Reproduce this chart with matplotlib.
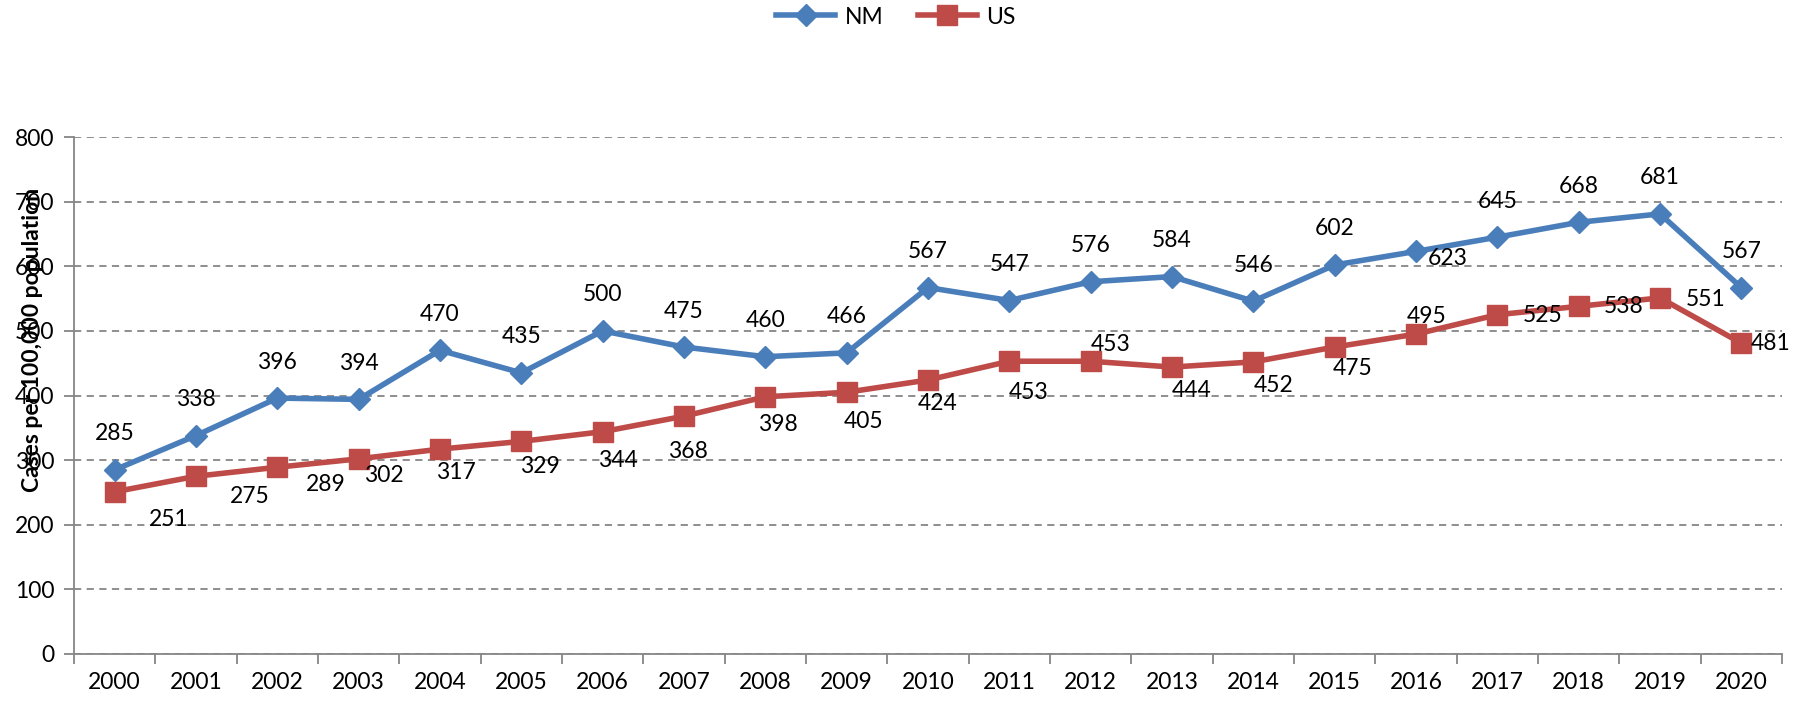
import matplotlib
matplotlib.use('Agg')
import matplotlib.pyplot as plt

years = [str(y) for y in range(2000, 2021)]
nm_rates = [285, 338, 396, 394, 470, 435, 500, 475, 460, 466, 567,
            547, 576, 584, 546, 602, 623, 645, 668, 681, 567]
us_rates = [251, 275, 289, 302, 317, 329, 344, 368, 398, 405, 424,
            453, 453, 444, 452, 475, 495, 525, 538, 551, 481]

# label offsets in pixels (dx, dy), Excel-style manual placement
nm_offsets = [(0, 36)] * 21
nm_offsets[16] = (32, -7)
us_offsets = [(54, -28), (54, -20), (48, -17), (25, -17), (16, -23), (19, -25),
              (15, -29), (4, -35), (13, -28), (17, -29), (10, -24), (19, -31),
              (20, 17), (20, -23), (20, -24), (18, -21), (11, 18), (45, -1),
              (45, 0), (46, -2), (29, 0)]

BLUE = '#4A7EBB'
RED = '#BE4B48'
GRAY = '#868686'
FS = 16.5

plt.rcParams['font.family'] = ['Lato', 'DejaVu Sans']

fig = plt.figure(figsize=(18.06, 7.04), dpi=100)
ax = fig.add_axes([74 / 1806, 1 - 654 / 704, (1782 - 74) / 1806, (654 - 137) / 704])

x = list(range(len(years)))
ax.plot(x, nm_rates, color=BLUE, lw=4, marker='D', ms=11, label='NM', zorder=3)
ax.plot(x, us_rates, color=RED, lw=4, marker='s', ms=14, label='US', zorder=3)

for i, v in enumerate(nm_rates):
    ax.annotate(str(v), (i, v), xytext=nm_offsets[i], textcoords='offset pixels',
                ha='center', va='center', fontsize=FS, zorder=4)
for i, v in enumerate(us_rates):
    ax.annotate(str(v), (i, v), xytext=us_offsets[i], textcoords='offset pixels',
                ha='center', va='center', fontsize=FS, zorder=4)

ax.set_xlim(-0.5, len(years) - 0.5)
ax.set_ylim(0, 800)
ax.set_yticks(range(0, 801, 100))
ax.set_xticks([i - 0.5 for i in range(len(years) + 1)], minor=False)
ax.set_xticklabels([])
ax.set_xticks(x, minor=True)
ax.set_xticklabels(years, minor=True)
ax.tick_params(axis='x', which='major', length=7, width=1.3, color=GRAY)
ax.tick_params(axis='x', which='minor', length=0, pad=13, labelsize=FS)
ax.tick_params(axis='y', length=7, width=1.3, color=GRAY, pad=7, labelsize=FS)

ax.yaxis.grid(True, color=GRAY, ls=(0, (4, 3)), lw=1.3)
ax.set_axisbelow(True)
for s in ['top', 'right']:
    ax.spines[s].set_visible(False)
for s in ['left', 'bottom']:
    ax.spines[s].set_color(GRAY)
    ax.spines[s].set_linewidth(1.3)

fig.text(33 / 1806, 1 - 340 / 704, 'Cases per 100,000 population', rotation=90,
         ha='center', va='center', fontsize=FS, fontweight='bold')

fig.legend(loc='center', bbox_to_anchor=(0.496, 1 - 17 / 704), ncol=2, frameon=False,
           fontsize=FS, handlelength=2.6, columnspacing=1.5, handletextpad=0.4)

fig.savefig('out.png', dpi=100)
